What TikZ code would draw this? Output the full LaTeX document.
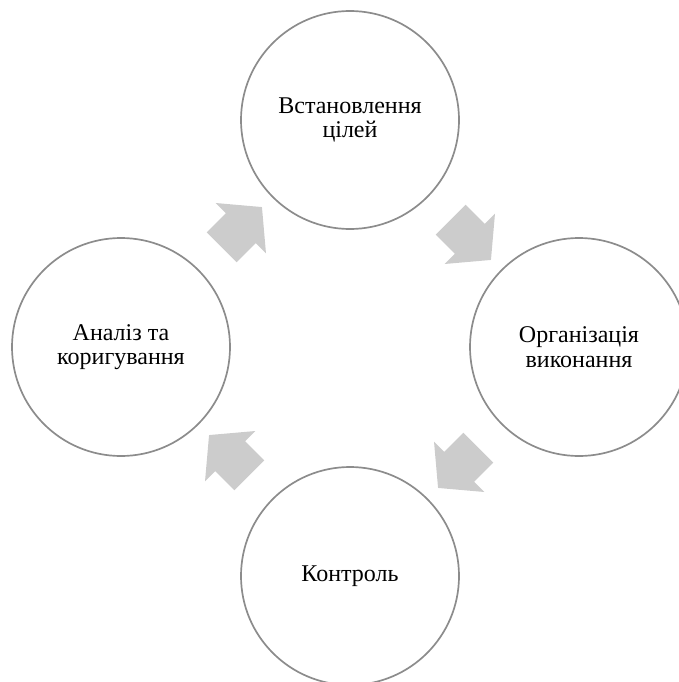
\documentclass[tikz,border=0pt]{standalone}
\usepackage{fontspec}
\setmainfont{Liberation Serif}
\usetikzlibrary{shapes.arrows,calc}
\definecolor{ringgray}{RGB}{140,140,140}
\definecolor{arrowgray}{RGB}{204,204,204}
\begin{document}
\begin{tikzpicture}[x=1pt,y=-1pt,
  stage/.style={circle, draw=ringgray, line width=1.7pt, fill=white, minimum size=218pt, inner sep=0pt, align=center, font=\fontsize{24}{24.5}\selectfont},
  cyclearrow/.style={single arrow, fill=arrowgray, draw=none, minimum height=57pt, inner xsep=0pt, inner ysep=21pt, single arrow head extend=14.5pt, single arrow tip angle=100}]
\useasboundingbox (0,0) rectangle (679,682);
\clip (0,0) rectangle (679,682);
\node[stage] (tsili) at (350,120){Встановлення\\цілей};
\node[stage] (orhan) at (579,347){Організація\\виконання};
\node[stage] (kontrol) at (350,576){Контроль};
\node[stage] (analiz) at (121,347){Аналіз та\\коригування};
\node[cyclearrow, rotate=45] (arr1) at ($(analiz)!0.5!(tsili)$){};
\node[cyclearrow, rotate=-45] (arr2) at ($(tsili)!0.5!(orhan)$){};
\node[cyclearrow, rotate=-135] (arr3) at ($(orhan)!0.5!(kontrol)$){};
\node[cyclearrow, rotate=135] (arr4) at ($(kontrol)!0.5!(analiz)$){};
\end{tikzpicture}
\end{document}
